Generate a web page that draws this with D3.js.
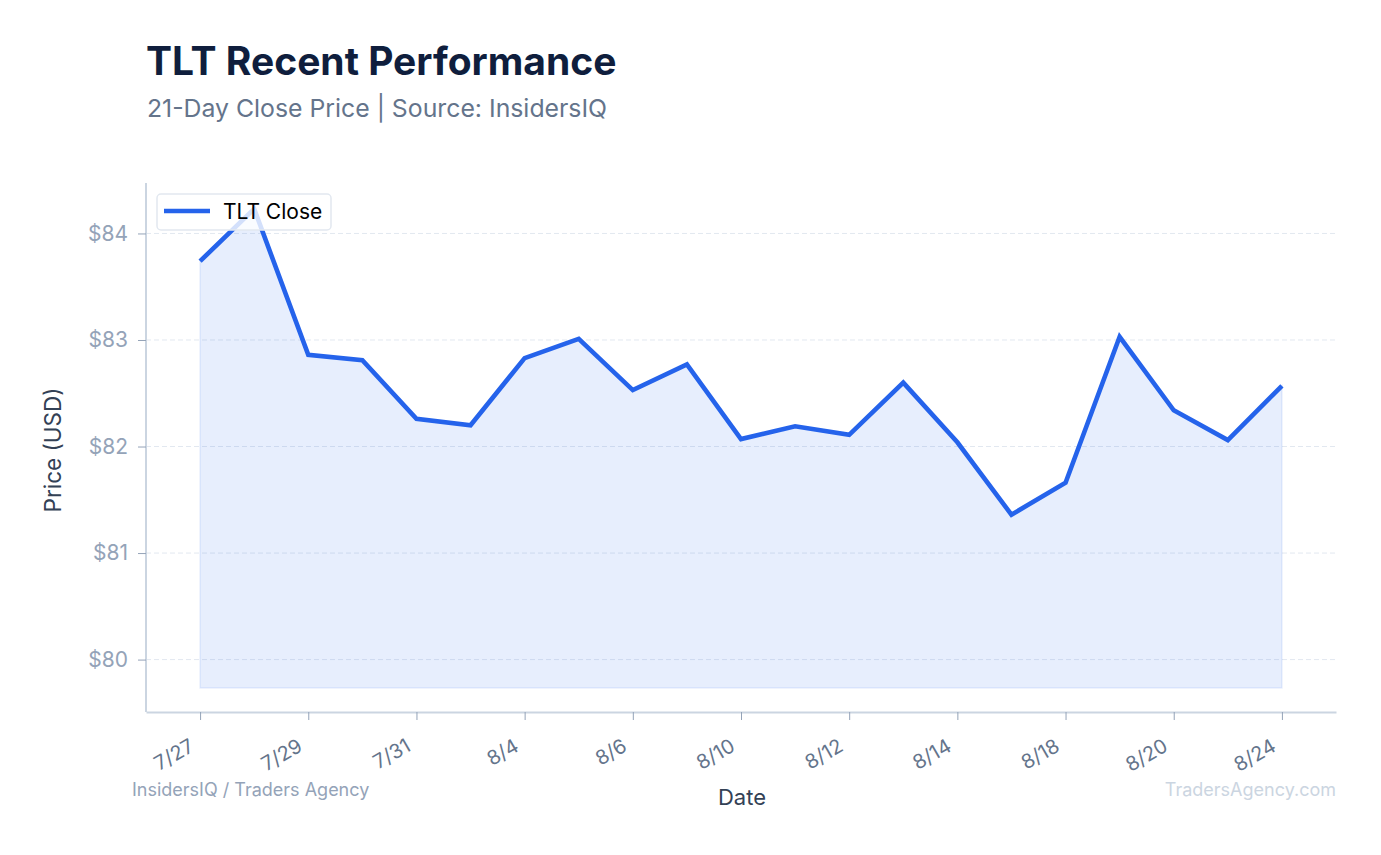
<!DOCTYPE html>
<html>
<head>
<meta charset="utf-8">
<script src="https://cdn.jsdelivr.net/npm/d3@7"></script>
<style>
  body { margin: 0; background: #fff; }
  text { font-family: Inter, "Noto Sans", sans-serif; }
</style>
</head>
<body>
<div id="chart"></div>
<script>
// data
const dates = ["7/27","7/28","7/29","7/30","7/31","8/3","8/4","8/5","8/6","8/7",
               "8/10","8/11","8/12","8/13","8/14","8/17","8/18","8/19","8/20","8/21","8/24"];
const closes = [83.74, 84.23, 82.86, 82.81, 82.26, 82.20, 82.83, 83.01, 82.53, 82.77,
                82.07, 82.19, 82.11, 82.60, 82.04, 81.36, 81.66, 83.03, 82.34, 82.06, 82.57];
const yTicks = [80, 81, 82, 83, 84];

const W = 1381, H = 855;
const margin = {top: 185, right: 45, bottom: 143, left: 146};
const width = W - margin.left - margin.right,
      height = H - margin.top - margin.bottom;

const svg = d3.select("#chart").append("svg")
    .attr("width", W).attr("height", H);

// title block
svg.append("text").attr("x", 146).attr("y", 75)
    .attr("font-size", 39).attr("font-weight", 700).attr("fill", "#0f1e3d")
    .text("TLT Recent Performance");
svg.append("text").attr("x", 147).attr("y", 117)
    .attr("font-size", 24.8).attr("fill", "#64748b")
    .text("21-Day Close Price | Source: InsidersIQ");

const g = svg.append("g").attr("transform", `translate(${margin.left},${margin.top})`);

const base = d3.min(closes) * 0.98;   // fill floor
const lo = base, hi = d3.max(closes), pad = (hi - lo) * 0.05;

const x = d3.scaleLinear().domain([-1, dates.length]).range([0, width]);
const y = d3.scaleLinear().domain([lo - pad, hi + pad]).range([height, 0]);

// grid
g.selectAll("line.grid").data(yTicks).enter().append("line")
    .attr("x1", 0).attr("x2", width)
    .attr("y1", d => y(d)).attr("y2", d => y(d))
    .attr("stroke", "#e2e8f0").attr("stroke-width", 1)
    .attr("stroke-dasharray", "5,3");

// area
const area = d3.area()
    .x((d, i) => x(i)).y0(y(base)).y1(d => y(d));
g.append("path").datum(closes)
    .attr("d", area)
    .attr("fill", "#2563eb").attr("fill-opacity", 0.11)
    .attr("stroke", "#2563eb").attr("stroke-opacity", 0.1).attr("stroke-width", 1.5);

// line
const line = d3.line().x((d, i) => x(i)).y(d => y(d));
g.append("path").datum(closes)
    .attr("d", line)
    .attr("fill", "none").attr("stroke", "#2563eb")
    .attr("stroke-width", 4.6).attr("stroke-linejoin", "miter");

// axes
const yAxis = g.append("g")
    .call(d3.axisLeft(y).tickValues(yTicks).tickFormat(d => "$" + d).tickSize(8).tickPadding(10));
yAxis.select(".domain").attr("stroke", "#cbd5e1").attr("stroke-width", 2)
    .attr("d", `M0,-2V${height}`);
yAxis.selectAll(".tick line").attr("stroke", "#94a3b8");
yAxis.selectAll(".tick text").attr("font-size", 21).attr("fill", "#94a3b8")
    .attr("font-family", "Inter, sans-serif");

const xTickIdx = d3.range(0, dates.length, 2);
const xAxis = g.append("g").attr("transform", `translate(0,${height})`)
    .call(d3.axisBottom(x).tickValues(xTickIdx).tickFormat(i => dates[i]).tickSize(8).tickSizeOuter(0));
xAxis.select(".domain").attr("stroke", "#cbd5e1").attr("stroke-width", 2);
xAxis.selectAll(".tick line").attr("stroke", "#94a3b8");
xAxis.selectAll(".tick text")
    .attr("font-size", 20).attr("fill", "#64748b").attr("font-family", "Inter, sans-serif")
    .attr("text-anchor", "end").attr("dy", null).attr("y", 0)
    .attr("transform", "translate(-5,38) rotate(-30)");

// axis titles
svg.append("text")
    .attr("transform", `translate(61,450) rotate(-90)`)
    .attr("text-anchor", "middle").attr("font-size", 22.5).attr("fill", "#334155")
    .text("Price (USD)");
svg.append("text").attr("x", margin.left + width / 2 + 1).attr("y", 805)
    .attr("text-anchor", "middle").attr("font-size", 22).attr("fill", "#334155")
    .text("Date");

// footer
svg.append("text").attr("x", 132).attr("y", 796)
    .attr("font-size", 18).attr("fill", "#94a3b8")
    .text("InsidersIQ / Traders Agency");
svg.append("text").attr("x", 1336).attr("y", 796).attr("text-anchor", "end")
    .attr("font-size", 18).attr("fill", "#cbd5e1")
    .text("TradersAgency.com");

// legend
const lg = g.append("g").attr("transform", "translate(11,9)");
lg.append("rect").attr("width", 174).attr("height", 36).attr("rx", 4)
    .attr("fill", "#fff").attr("fill-opacity", 0.8)
    .attr("stroke", "#e2e8f0").attr("stroke-width", 1.5);
lg.append("line").attr("x1", 7).attr("x2", 53).attr("y1", 17).attr("y2", 17)
    .attr("stroke", "#2563eb").attr("stroke-width", 4.6);
lg.append("text").attr("x", 66).attr("y", 24.5)
    .attr("font-size", 21).attr("fill", "#000").text("TLT Close");
</script>
</body>
</html>
